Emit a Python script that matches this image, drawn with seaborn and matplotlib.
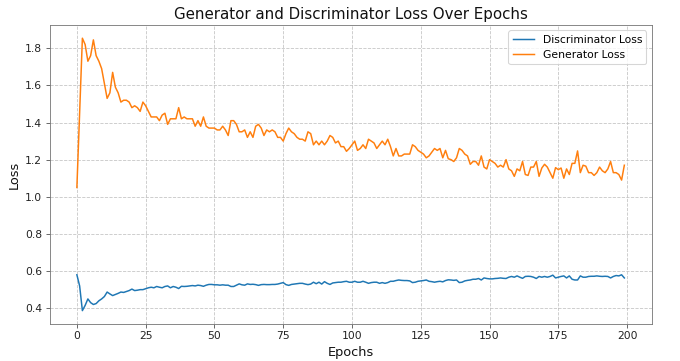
import matplotlib
matplotlib.use("Agg")
import matplotlib.pyplot as plt
import seaborn as sns
import pandas as pd

epochs = list(range(200))

disc_loss = [
    0.58, 0.52, 0.387, 0.415, 0.45, 0.43, 0.42, 0.425, 0.44, 0.45,
    0.463, 0.487, 0.477, 0.468, 0.474, 0.48, 0.487, 0.485, 0.49, 0.495,
    0.503, 0.495, 0.497, 0.50, 0.50, 0.505, 0.51, 0.513, 0.51, 0.517,
    0.513, 0.51, 0.517, 0.52, 0.51, 0.517, 0.513, 0.506, 0.518, 0.517,
    0.518, 0.52, 0.522, 0.52, 0.524, 0.522, 0.518, 0.524, 0.528, 0.528,
    0.526, 0.526, 0.524, 0.526, 0.524, 0.524, 0.517, 0.517, 0.524, 0.531,
    0.526, 0.524, 0.531, 0.528, 0.529, 0.527, 0.523, 0.527, 0.528, 0.527,
    0.527, 0.528, 0.528, 0.53, 0.534, 0.538, 0.527, 0.523, 0.528, 0.53,
    0.532, 0.534, 0.534, 0.53, 0.527, 0.53, 0.54, 0.532, 0.54, 0.53,
    0.543, 0.534, 0.528, 0.536, 0.538, 0.54, 0.54, 0.543, 0.545, 0.54,
    0.54, 0.545, 0.54, 0.54, 0.545, 0.54, 0.534, 0.538, 0.54, 0.54,
    0.534, 0.538, 0.534, 0.538, 0.545, 0.545, 0.549, 0.552, 0.55, 0.549,
    0.549, 0.547, 0.538, 0.54, 0.545, 0.547, 0.549, 0.552, 0.545, 0.543,
    0.54, 0.543, 0.545, 0.542, 0.549, 0.553, 0.552, 0.55, 0.552, 0.538,
    0.54, 0.547, 0.55, 0.552, 0.556, 0.556, 0.56, 0.552, 0.563, 0.56,
    0.558, 0.558, 0.56, 0.561, 0.563, 0.561, 0.56, 0.567, 0.571, 0.567,
    0.574, 0.567, 0.561, 0.571, 0.572, 0.571, 0.567, 0.56, 0.571, 0.567,
    0.571, 0.567, 0.571, 0.578, 0.563, 0.567, 0.571, 0.574, 0.563, 0.574,
    0.556, 0.552, 0.552, 0.574, 0.567, 0.567, 0.571, 0.572, 0.572, 0.574,
    0.572, 0.571, 0.572, 0.571, 0.563, 0.571, 0.576, 0.574, 0.58, 0.563,
]

gen_loss = [
    1.05, 1.45, 1.854, 1.82, 1.73, 1.76, 1.845, 1.76, 1.73, 1.69,
    1.61, 1.53, 1.56, 1.67, 1.59, 1.56, 1.51, 1.52, 1.52, 1.51,
    1.48, 1.49, 1.48, 1.46, 1.51, 1.49, 1.46, 1.43, 1.43, 1.43,
    1.41, 1.44, 1.45, 1.39, 1.42, 1.42, 1.42, 1.48, 1.42, 1.43,
    1.42, 1.42, 1.42, 1.38, 1.41, 1.38, 1.43, 1.38, 1.37, 1.37,
    1.37, 1.36, 1.36, 1.38, 1.36, 1.33, 1.41, 1.41, 1.39, 1.35,
    1.35, 1.36, 1.32, 1.35, 1.32, 1.38, 1.39, 1.37, 1.33, 1.36,
    1.35, 1.36, 1.35, 1.32, 1.32, 1.30, 1.34, 1.37, 1.35, 1.34,
    1.32, 1.31, 1.31, 1.30, 1.35, 1.34, 1.28, 1.30, 1.28, 1.30,
    1.28, 1.30, 1.33, 1.32, 1.29, 1.30, 1.27, 1.27, 1.245, 1.26,
    1.28, 1.30, 1.25, 1.26, 1.28, 1.26, 1.31, 1.30, 1.29, 1.26,
    1.28, 1.30, 1.28, 1.31, 1.27, 1.22, 1.26, 1.22, 1.22, 1.23,
    1.23, 1.23, 1.28, 1.27, 1.25, 1.24, 1.23, 1.21, 1.22, 1.24,
    1.26, 1.25, 1.26, 1.21, 1.25, 1.205, 1.20, 1.19, 1.21, 1.26,
    1.25, 1.23, 1.22, 1.175, 1.19, 1.19, 1.17, 1.22, 1.16, 1.15,
    1.20, 1.19, 1.18, 1.16, 1.17, 1.16, 1.20, 1.15, 1.14, 1.11,
    1.15, 1.14, 1.19, 1.12, 1.115, 1.16, 1.16, 1.19, 1.11, 1.155,
    1.175, 1.16, 1.13, 1.10, 1.157, 1.146, 1.155, 1.10, 1.15, 1.12,
    1.18, 1.18, 1.247, 1.13, 1.17, 1.165, 1.13, 1.13, 1.115, 1.13,
    1.16, 1.14, 1.13, 1.15, 1.19, 1.13, 1.13, 1.12, 1.09, 1.17,
]

series_names = ["Discriminator Loss", "Generator Loss"]

df = pd.DataFrame({
    "Epochs": epochs * 2,
    "Loss": disc_loss + gen_loss,
    "Series": [series_names[0]] * len(epochs) + [series_names[1]] * len(epochs),
})

plt.rcParams["font.family"] = ["DejaVu Sans"]

DPI = 77
fig, ax = plt.subplots(figsize=(680 / DPI, 361 / DPI), dpi=DPI)
sns.lineplot(data=df, x="Epochs", y="Loss", hue="Series",
             palette=["#1f77b4", "#ff7f0e"], linewidth=1.4, ax=ax)
ax.grid(True, linestyle="--", alpha=0.7)
for s in ax.spines.values():
    s.set_color("#777777")
ax.tick_params(axis="both", colors="#555555", labelcolor="#222222")
ax.set_xlabel("Epochs", fontsize=12, color="#111111")
ax.set_ylabel("Loss", fontsize=12, color="#111111")
ax.set_title("Generator and Discriminator Loss Over Epochs", fontsize=14, color="#111111")
ax.set_xticks([0, 25, 50, 75, 100, 125, 150, 175, 200])
ax.set_yticks([0.4, 0.6, 0.8, 1.0, 1.2, 1.4, 1.6, 1.8])
ax.set_xlim(-9.95, 208.95)
ax.set_ylim(0.315, 1.925)
ax.legend(title=None, fontsize=10, loc="upper right")
fig.subplots_adjust(left=0.0728, right=0.9584, top=0.9307, bottom=0.1025)
fig.savefig("out.png", dpi=DPI)
